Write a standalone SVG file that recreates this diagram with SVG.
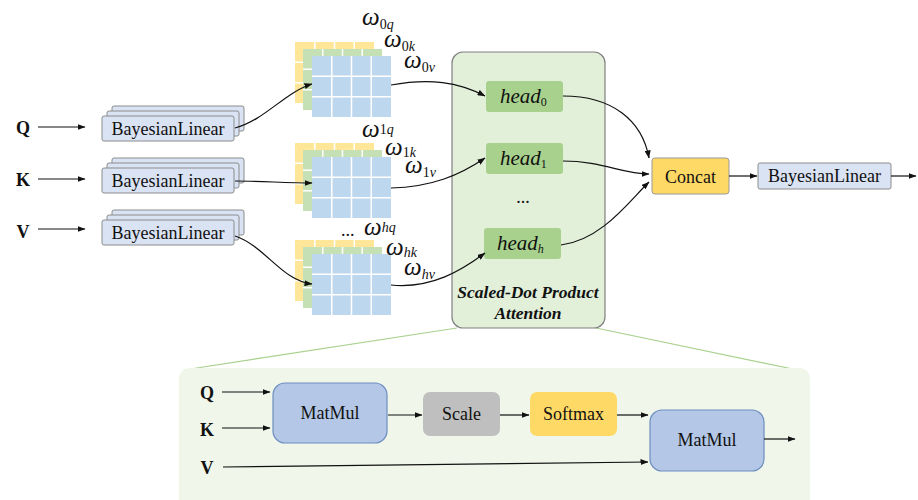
<svg xmlns="http://www.w3.org/2000/svg" xmlns:xlink="http://www.w3.org/1999/xlink" width="918" height="500" viewBox="0 0 918 500" font-family="'Liberation Serif', 'Times New Roman', serif">
<style>
text{font-family:"Liberation Serif","Times New Roman",serif;fill:#111;}
.lbl{font-size:18px;text-anchor:middle;}
.io{font-size:18px;font-weight:bold;text-anchor:middle;}
.w{font-size:25px;font-style:italic;}
.ws{font-size:14px;}
.hd{font-size:21px;font-style:italic;}
.bl{fill:#dae3f3;stroke:#8c8c8c;stroke-width:1;}
.head{fill:#a9d18e;}
.c{fill:none;stroke:#111;stroke-width:1.2;marker-end:url(#ah);}
.y{fill:#ffe699;}
.g{fill:#c5e0b4;}
.b{fill:#bdd7ee;}
</style>
<defs>
<marker id="ah" markerUnits="userSpaceOnUse" markerWidth="8" markerHeight="6" refX="7.5" refY="3" orient="auto">
<path d="M0,0 L8,3 L0,6 z" fill="#111"/>
</marker>
<path id="gl" d="M19.75 0V61M39.5 0V61M59.25 0V61M0 20.33H79M0 40.67H79" stroke="#fff" stroke-width="1.5" fill="none"/>
<g id="stack">
<rect class="y" x="0" y="0" width="79" height="61"/><use xlink:href="#gl"/>
<rect class="g" x="8" y="7" width="79" height="61"/><use xlink:href="#gl" x="8" y="7"/>
<rect class="b" x="17" y="14" width="79" height="61"/><use xlink:href="#gl" x="17" y="14"/>
</g>
<g id="blstack">
<rect class="bl" x="10" y="-10" width="132" height="25" rx="2"/>
<rect class="bl" x="5" y="-5" width="132" height="25" rx="2"/>
<rect class="bl" x="0" y="0" width="132" height="25" rx="2"/>
</g>
</defs>
<rect width="918" height="500" fill="#fff"/>

<g id="zoomlines" stroke="#a9d18e" stroke-width="1.2">
<line x1="457" y1="328" x2="184" y2="370"/>
<line x1="596" y1="328" x2="807" y2="372"/>
</g>

<g id="attention">
<rect x="452" y="52" width="153" height="276" rx="11" fill="#e2efd9" stroke="#808080" stroke-width="1.2"/>
<text x="528" y="298" font-size="17.5" font-weight="bold" font-style="italic" text-anchor="middle">Scaled-Dot Product</text>
<text x="528" y="319" font-size="17.5" font-weight="bold" font-style="italic" text-anchor="middle">Attention</text>
<text x="523" y="203" font-size="18" text-anchor="middle">...</text>
</g>

<g id="inQ"><text class="io" x="23" y="134">Q</text></g>
<g id="inK"><text class="io" x="23" y="186">K</text></g>
<g id="inV"><text class="io" x="23" y="238">V</text></g>

<g id="blQ"><use xlink:href="#blstack" x="102" y="116"/><text class="lbl" x="168" y="134.5">BayesianLinear</text></g>
<g id="blK"><use xlink:href="#blstack" x="102" y="168"/><text class="lbl" x="168" y="186.5">BayesianLinear</text></g>
<g id="blV"><use xlink:href="#blstack" x="102" y="220"/><text class="lbl" x="168" y="238.5">BayesianLinear</text></g>

<g id="mat0"><use xlink:href="#stack" x="295" y="42"/>
<text class="w" x="362" y="25">ω<tspan class="ws" dy="4" font-style="normal">0</tspan><tspan class="ws">q</tspan></text>
<text class="w" x="384" y="47">ω<tspan class="ws" dy="4" font-style="normal">0</tspan><tspan class="ws">k</tspan></text>
<text class="w" x="404" y="68">ω<tspan class="ws" dy="4" font-style="normal">0</tspan><tspan class="ws">v</tspan></text>
</g>
<g id="mat1"><use xlink:href="#stack" x="295" y="143"/>
<text class="w" x="362" y="137">ω<tspan class="ws" dy="-3" font-style="normal">1</tspan><tspan class="ws">q</tspan></text>
<text class="w" x="385" y="155">ω<tspan class="ws" dy="2" font-style="normal">1</tspan><tspan class="ws">k</tspan></text>
<text class="w" x="405" y="173">ω<tspan class="ws" dy="4" font-style="normal">1</tspan><tspan class="ws">v</tspan></text>
</g>
<g id="matH"><use xlink:href="#stack" x="295" y="240"/>
<text x="341" y="236" font-size="18">...</text>
<text class="w" x="364" y="235">ω<tspan class="ws" dy="-3">hq</tspan></text>
<text class="w" x="386" y="255">ω<tspan class="ws" dy="2">hk</tspan></text>
<text class="w" x="404" y="275">ω<tspan class="ws" dy="4">hv</tspan></text>
</g>

<g id="head0"><rect class="head" x="486" y="81" width="77" height="31" rx="3"/><text class="hd" x="500" y="103">head<tspan font-size="12" font-style="normal" dy="3">0</tspan></text></g>
<g id="head1"><rect class="head" x="486" y="143" width="77" height="31" rx="3"/><text class="hd" x="500" y="165">head<tspan font-size="12" font-style="normal" dy="3">1</tspan></text></g>
<g id="headH"><rect class="head" x="484" y="228" width="77" height="31" rx="3"/><text class="hd" x="497" y="250">head<tspan font-size="12" dy="3">h</tspan></text></g>

<g id="concat"><rect x="652" y="158" width="77" height="36" rx="3" fill="#ffd966" stroke="#999" stroke-width="1"/><text class="lbl" x="690.5" y="182.5">Concat</text></g>
<g id="blOut"><rect class="bl" x="758" y="163" width="133" height="26" rx="2"/><text class="lbl" x="824.5" y="182">BayesianLinear</text></g>

<g id="panel"><path d="M179,500 V380 Q179,368 191,368 H798 Q810,368 810,380 V500 Z" fill="#f0f6ea"/></g>
<g id="pQ"><text class="io" x="207" y="399">Q</text></g>
<g id="pK"><text class="io" x="207" y="436">K</text></g>
<g id="pV"><text class="io" x="207" y="474">V</text></g>
<g id="matmul1"><rect x="273" y="383" width="114" height="60" rx="12" fill="#b4c7e7" stroke="#6c8ebf" stroke-width="1.2"/><text class="lbl" x="330" y="419">MatMul</text></g>
<g id="scale"><rect x="423" y="392" width="77" height="44" rx="7" fill="#bfbfbf"/><text class="lbl" x="461.5" y="420">Scale</text></g>
<g id="softmax"><rect x="530" y="392" width="87" height="44" rx="7" fill="#ffd966"/><text class="lbl" x="573.5" y="420">Softmax</text></g>
<g id="matmul2"><rect x="650" y="410" width="114" height="61" rx="12" fill="#b4c7e7" stroke="#6c8ebf" stroke-width="1.2"/><text class="lbl" x="707" y="446">MatMul</text></g>

<g id="connectors">
<path class="c" d="M38,127 H85"/>
<path class="c" d="M38,179 H85"/>
<path class="c" d="M38,229 H85"/>
<path class="c" d="M235,128 C265,120 285,92 312,84"/>
<path class="c" d="M235,181 C262,181 285,183 312,183"/>
<path class="c" d="M235,236 C265,246 282,281 312,284"/>
<path class="c" d="M391,85 C430,78 458,82 485,96"/>
<path class="c" d="M391,188 C432,187 460,175 485,158"/>
<path class="c" d="M391,285 C432,289 462,270 485,253"/>
<path class="c" d="M563,96 C612,96 642,120 649,158"/>
<path class="c" d="M563,161 C602,161 622,174 649,174"/>
<path class="c" d="M561,245 C602,240 630,200 649,182"/>
<path class="c" d="M729,176 H757"/>
<path class="c" d="M891,176 H916"/>
<path class="c" d="M222,392 H270"/>
<path class="c" d="M222,428 H270"/>
<path class="c" d="M388,415 H422"/>
<path class="c" d="M500,415 H529"/>
<path class="c" d="M617,415 H648"/>
<path class="c" d="M764,439 H795"/>
<path class="c" d="M223,467 L648,462"/>
</g>
</svg>
